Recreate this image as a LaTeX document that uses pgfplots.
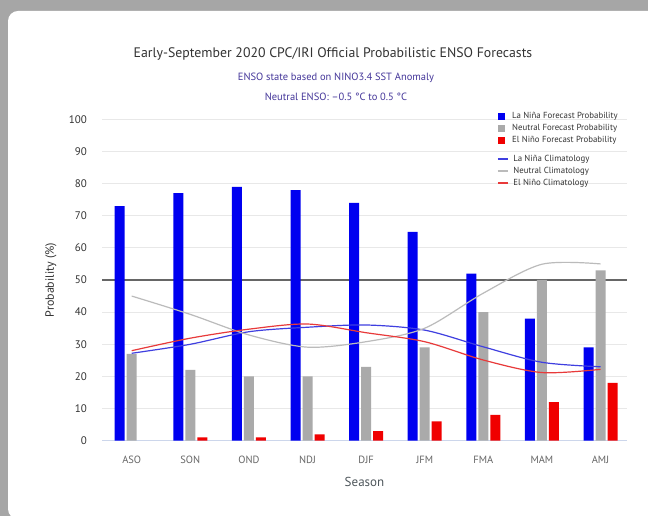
\documentclass[border=0pt]{standalone}
\usepackage{fontspec}
\setmainfont{PT Sans}
\usepackage{pgfplots}
\pgfplotsset{compat=1.18}
\usepackage{pgfplotstable}
\definecolor{bordergray}{HTML}{A6A6A6}
\definecolor{gridgray}{HTML}{E8E8E8}
\definecolor{axisblue}{HTML}{CCD6EB}
\definecolor{barblue}{HTML}{0000F0}
\definecolor{bargray}{HTML}{AAAAAA}
\definecolor{barred}{HTML}{F00000}
\definecolor{lineblue}{HTML}{3F3FE0}
\definecolor{linegray}{HTML}{BBBBBB}
\definecolor{linered}{HTML}{E83A3A}
\definecolor{titlegray}{HTML}{333333}
\definecolor{subpurple}{HTML}{45379A}
\definecolor{fiftyline}{HTML}{666666}
\definecolor{xlabgray}{HTML}{666666}
\definecolor{seasongray}{HTML}{4F575C}

\pgfplotstableread{
x lanina neutral elnino
0 73 27 nan
1 77 22 1
2 79 20 1
3 78 20 2
4 74 23 3
5 65 29 6
6 52 40 8
7 38 50 12
8 29 53 18
}\fcst

\pgfplotstableread{
x lanina neutral elnino
0 27.2 45.0 28.0
1 30.0 39.3 31.9
2 33.9 32.9 34.7
3 35.3 29.1 36.3
4 36.0 30.8 33.6
5 34.4 35.0 30.8
6 29.2 45.9 25.1
7 24.4 54.9 21.2
8 23.0 55.0 22.2
}\clim

\pgfplotsset{
  barleg/.style={legend image code/.code={\fill[##1] (0pt,-3.5pt) rectangle (7pt,3.5pt);}},
  lineleg/.style={legend image code/.code={\draw[##1] (0pt,0pt) -- (10pt,0pt);}},
  common/.style={
    scale only axis, width=525pt, height=321.4pt,
    at={(102pt,75.3pt)}, anchor=south west,
    xmin=-0.507, xmax=8.452, ymin=0, ymax=100,
  },
}

\begin{document}
\begin{tikzpicture}[x=1pt,y=1pt]
\path[use as bounding box] (0,0) rectangle (648,516);
\fill[bordergray] (0,0) rectangle (648,516);
\fill[white, rounded corners=10pt] (8,-3) rectangle (670,505);

\begin{axis}[common,
  axis x line*=bottom, axis y line*=left,
  y axis line style={draw=none},
  x axis line style={draw=axisblue, line width=1pt},
  major tick length=0pt, tick style={draw=none},
  ymajorgrids, grid style={gridgray, line width=1pt},
  ytick={0,10,...,100},
  xtick={0,...,8},
  xticklabels={ASO,SON,OND,NDJ,DJF,JFM,FMA,MAM,AMJ},
  /pgf/number format/assume math mode=true,
  yticklabel style={font=\fontsize{11}{13}\selectfont, color=titlegray, xshift=-11.5pt},
  xticklabel style={font=\fontsize{10.5}{12}\selectfont, color=xlabgray, yshift=-12pt},
  xlabel={Season},
  ylabel={Probability (\%)},
  every axis x label/.style={at={(axis description cs:0.5,-0.127)}, anchor=center,
    font=\fontsize{13}{15}\selectfont, color=seasongray},
  every axis y label/.style={at={(axis description cs:-0.0971,0.5)}, anchor=center, rotate=90,
    font=\fontsize{12}{14}\selectfont, color=titlegray},
  legend style={at={(axis description cs:0.7543,1.022)}, anchor=north west,
    draw=none, fill=none, inner sep=0pt, row sep=4.2pt, column sep=7pt,
    font=\fontsize{8.8}{10}\selectfont, text=titlegray,
    nodes={inner sep=0pt, anchor=west}},
  legend cell align=left,
]
\addplot[sharp plot, fiftyline, line width=2pt, forget plot] coordinates {(-0.507,50) (8.452,50)};
\addplot[ybar, bar width=10pt, bar shift=-12pt, fill=barblue, draw=none, barleg] table[x=x, y=lanina] {\fcst};
\addlegendentry{La Niña Forecast Probability}
\addplot[ybar, bar width=10pt, bar shift=0pt, fill=bargray, draw=none, barleg] table[x=x, y=neutral] {\fcst};
\addlegendentry{Neutral Forecast Probability}
\addplot[ybar, bar width=10pt, bar shift=12pt, fill=barred, draw=none, barleg] table[x=x, y=elnino] {\fcst};
\addlegendentry{El Niño Forecast Probability}
\end{axis}

\begin{axis}[common, hide axis,
  legend style={at={(axis description cs:0.7524,0.889)}, anchor=north west,
    draw=none, fill=none, inner sep=0pt, row sep=4.2pt, column sep=5pt,
    font=\fontsize{8.8}{10}\selectfont, text=titlegray,
    nodes={inner sep=0pt, anchor=west}},
  legend cell align=left,
]
\addplot[smooth, lineblue, line width=1.2pt, lineleg] table[x=x, y=lanina] {\clim};
\addlegendentry{La Niña Climatology}
\addplot[smooth, linegray, line width=1.2pt, lineleg] table[x=x, y=neutral] {\clim};
\addlegendentry{Neutral Climatology}
\addplot[smooth, linered, line width=1.2pt, lineleg] table[x=x, y=elnino] {\clim};
\addlegendentry{El Niño Climatology}
\end{axis}

\node[font=\fontsize{13.8}{16}\selectfont, text=titlegray] at (333,462)
  {Early-September 2020 CPC/IRI Official Probabilistic ENSO Forecasts};
\node[font=\fontsize{10.5}{12}\selectfont, text=subpurple] at (336,438)
  {ENSO state based on NINO3.4 SST Anomaly};
\node[font=\fontsize{10.5}{12}\selectfont, text=subpurple] at (336,419)
  {Neutral ENSO: –0.5 °C to 0.5 °C};
\end{tikzpicture}
\end{document}
